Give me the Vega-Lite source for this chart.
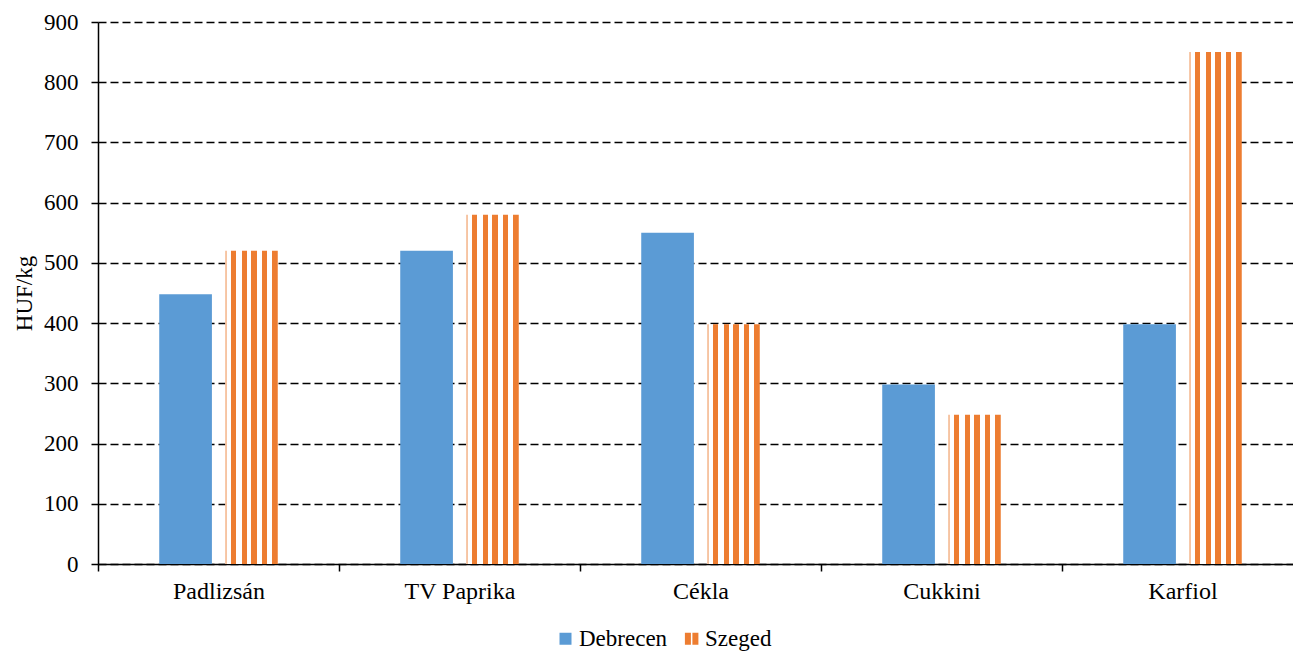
{
  "$schema": "https://vega.github.io/schema/vega-lite/v6.json",
  "autosize": {"type": "none"},
  "padding": {"left": 98, "top": 22, "right": 0, "bottom": 88},
  "width": 1195,
  "height": 542,
  "background": "white",
  "config": {
    "font": "Liberation Serif",
    "axis": {"labelFont": "Liberation Serif", "titleFont": "Liberation Serif"},
    "legend": {"labelFont": "Liberation Serif", "titleFont": "Liberation Serif"},
    "view": {"stroke": null}
  },
  "data": {
    "values": [
      {"veg": "Padlizsán", "city": "Debrecen", "price": 448},
      {"veg": "Padlizsán", "city": "Szeged", "price": 520},
      {"veg": "TV Paprika", "city": "Debrecen", "price": 520},
      {"veg": "TV Paprika", "city": "Szeged", "price": 580},
      {"veg": "Cékla", "city": "Debrecen", "price": 550},
      {"veg": "Cékla", "city": "Szeged", "price": 398},
      {"veg": "Cukkini", "city": "Debrecen", "price": 298},
      {"veg": "Cukkini", "city": "Szeged", "price": 248},
      {"veg": "Karfiol", "city": "Debrecen", "price": 398},
      {"veg": "Karfiol", "city": "Szeged", "price": 850}
    ]
  },
  "encoding": {
    "x": {
      "field": "veg",
      "type": "nominal",
      "sort": ["Padlizsán", "TV Paprika", "Cékla", "Cukkini", "Karfiol"],
      "scale": {"range": [0, 1205], "paddingInner": 0, "paddingOuter": 0},
      "axis": {
        "title": null,
        "labelAngle": 0,
        "labelFont": "Liberation Serif",
        "labelFontSize": 24,
        "labelColor": "black",
        "labelPadding": 8,
        "tickBand": "extent",
        "tickColor": "black",
        "tickSize": 7,
        "tickWidth": 1.5,
        "domainColor": "black",
        "domainWidth": 1.5,
        "grid": false
      }
    },
    "xOffset": {
      "field": "city",
      "type": "nominal",
      "scale": {"domain": ["Debrecen", "Szeged"], "paddingInner": 0.2, "paddingOuter": 0.93}
    },
    "y": {
      "field": "price",
      "type": "quantitative",
      "scale": {"domain": [0, 900], "nice": false},
      "axis": {
        "title": "HUF/kg",
        "titleFont": "Liberation Serif",
        "titleFontSize": 23,
        "titleFontWeight": "normal",
        "titleColor": "black",
        "titlePadding": 7,
        "values": [0, 100, 200, 300, 400, 500, 600, 700, 800, 900],
        "labelFont": "Liberation Serif",
        "labelFontSize": 23,
        "labelColor": "black",
        "labelPadding": 13,
        "tickColor": "black",
        "tickSize": 7,
        "tickWidth": 1.5,
        "domainColor": "black",
        "domainWidth": 1.5,
        "grid": true,
        "gridColor": "black",
        "gridDash": [8, 4],
        "gridWidth": 1.5,
        "gridOpacity": 1
      }
    }
  },
  "layer": [
    {
      "transform": [{"filter": "datum.city === 'Debrecen'"}],
      "mark": {"type": "bar", "strokeWidth": 0},
      "encoding": {
        "color": {
          "field": "city",
          "type": "nominal",
          "scale": {"domain": ["Debrecen", "Szeged"], "range": ["#5B9BD5", "#ED7D31"]},
          "legend": {
            "title": null,
            "orient": "none",
            "direction": "horizontal",
            "legendX": 456,
            "legendY": 605,
            "symbolType": "square",
            "symbolSize": 144,
            "symbolStrokeWidth": 0,
            "symbolOpacity": 1,
            "labelFont": "Liberation Serif",
            "labelFontSize": 23,
            "labelColor": "black",
            "labelOffset": 2,
            "columnPadding": 12,
            "encode": {
              "symbols": {
                "update": {
                  "shape": {"signal": "datum.value === 'Szeged' ? 'M-1.1,-1H-0.1V1H-1.1ZM0.15,-1H1.15V1H0.15Z' : 'square'"}
                }
              }
            }
          }
        }
      }
    },
    {
      "transform": [{"filter": "datum.city === 'Szeged'"}],
      "mark": {
        "type": "bar",
        "strokeWidth": 0,
        "fill": {
          "gradient": "linear",
          "x1": 0, "y1": 0, "x2": 1, "y2": 0,
          "stops": [
            {"offset": 0, "color": "#f6c4a2"},
            {"offset": 0.03, "color": "#f6c4a2"},
            {"offset": 0.03, "color": "#ffffff"},
            {"offset": 0.117, "color": "#ffffff"},
            {"offset": 0.117, "color": "#ED7D31"},
            {"offset": 0.21, "color": "#ED7D31"},
            {"offset": 0.21, "color": "#ffffff"},
            {"offset": 0.315, "color": "#ffffff"},
            {"offset": 0.315, "color": "#ED7D31"},
            {"offset": 0.407, "color": "#ED7D31"},
            {"offset": 0.407, "color": "#ffffff"},
            {"offset": 0.5, "color": "#ffffff"},
            {"offset": 0.5, "color": "#ED7D31"},
            {"offset": 0.598, "color": "#ED7D31"},
            {"offset": 0.598, "color": "#ffffff"},
            {"offset": 0.698, "color": "#ffffff"},
            {"offset": 0.698, "color": "#ED7D31"},
            {"offset": 0.796, "color": "#ED7D31"},
            {"offset": 0.796, "color": "#ffffff"},
            {"offset": 0.895, "color": "#ffffff"},
            {"offset": 0.895, "color": "#ED7D31"},
            {"offset": 1, "color": "#ED7D31"}
          ]
        }
      },
      "encoding": {}
    }
  ]
}
